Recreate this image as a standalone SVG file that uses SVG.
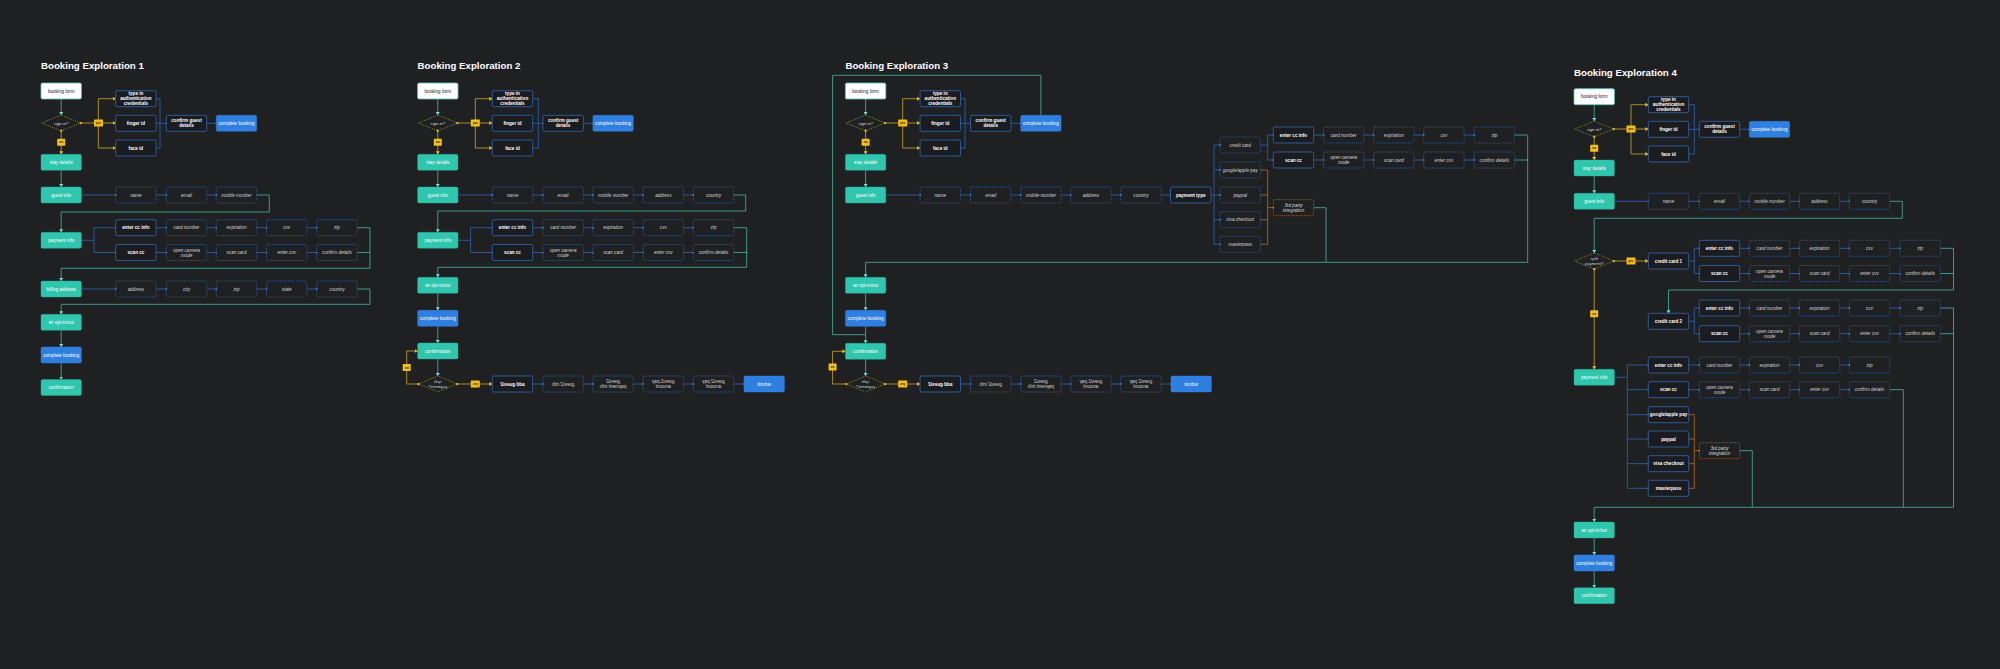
<svg xmlns="http://www.w3.org/2000/svg" width="2000" height="669" viewBox="0 0 2000 669">
<defs>
<style>
.ti{font-family:"Liberation Sans",Arial,sans-serif;font-weight:bold;font-size:9.7px;fill:#fff}
.n text{font-family:"Liberation Sans",Arial,sans-serif;font-size:4.6px;text-anchor:middle}
.teal rect{fill:#2fc6ad;stroke:#29ad97;stroke-width:.4}
.teal text,.blue text{fill:#fff}
.blue rect{fill:#2f7fe0;stroke:#3a89ea;stroke-width:.4}
.solid rect{fill:#1b1c1f;stroke:#3064a8;stroke-width:.85}
.solid text{fill:#fff;font-weight:bold}
.dot rect{fill:none;stroke:#3266ad;stroke-width:.9;stroke-dasharray:.9 1.1}
.dot text{fill:#d6d6d6;font-style:italic}
.odot rect{fill:none;stroke:#c06c1a;stroke-width:.9;stroke-dasharray:.9 1.1}
.odot text{fill:#dcdcdc;font-style:italic}
.white rect{fill:#fff;stroke:#5ccab7;stroke-width:.8}
.white text{fill:#222}
.dia polygon{fill:none;stroke:#9a952e;stroke-width:.9;stroke-dasharray:.9 1.1}
.dia text{fill:#dcdcdc;font-style:italic;font-size:4.2px}
.lab rect{fill:#f2c01c}
.lab text{fill:#2a2200;font-size:3.2px;font-weight:bold}
.c path{fill:none;stroke-width:.8}
.ct{stroke:#46b7a0}
.ct.a{marker-end:url(#at)}
.cb{stroke:#2d66b8}
.cb.a{marker-end:url(#bd)}
.cy{stroke:#d1a52a}
.cy.a{marker-end:url(#ay)}
.cy.s{marker-start:url(#yd)}
.co{stroke:#c06c17}
.co.a{marker-end:url(#od)}
</style>
<marker id="at" markerUnits="userSpaceOnUse" markerWidth="3" markerHeight="4" viewBox="0 0 3 4" refX="3" refY="2" orient="auto"><path d="M0,0 L3,2 L0,4 z" fill="#6fe3d3"/></marker>
<marker id="ay" markerUnits="userSpaceOnUse" markerWidth="3" markerHeight="4" viewBox="0 0 3 4" refX="3" refY="2" orient="auto"><path d="M0,0 L3,2 L0,4 z" fill="#f4c21e"/></marker>
<marker id="bd" markerUnits="userSpaceOnUse" markerWidth="2" markerHeight="2" viewBox="0 0 2 2" refX="1" refY="1"><circle cx="1" cy="1" r="0.9" fill="#3b86f0"/></marker>
<marker id="od" markerUnits="userSpaceOnUse" markerWidth="2" markerHeight="2" viewBox="0 0 2 2" refX="1" refY="1"><circle cx="1" cy="1" r="0.9" fill="#e07a1a"/></marker>
<marker id="yd" markerUnits="userSpaceOnUse" markerWidth="3" markerHeight="3" viewBox="0 0 3 3" refX="1.5" refY="1.5"><path d="M1.5,0 L3,1.5 L1.5,3 L0,1.5 z" fill="#f4c21e"/></marker>
</defs>
<rect width="2000" height="669" fill="#1f2022"/>

<text class="ti" x="41" y="69.3">Booking Exploration 1</text>
<text class="ti" x="417.6" y="69.3">Booking Exploration 2</text>
<text class="ti" x="845.4" y="69.3">Booking Exploration 3</text>
<text class="ti" x="1574" y="75.7">Booking Exploration 4</text>

<g id="connectors" class="c">
<!-- Exp 1 -->
<path class="ct a" d="M61.2,99 V115"/>
<path class="ct a" d="M61.2,170.3 V187"/>
<path class="ct a" d="M256.7,195 H269.3 V212 H61.2 V232.3"/>
<path class="ct a" d="M357.1,227.7 H370 V268.3 H61.2 V281"/>
<path class="ct" d="M357.1,252.5 H370"/>
<path class="ct a" d="M357.1,289 H370 V304.3 H61.2 V314.3"/>
<path class="ct a" d="M61.2,330.3 V347"/>
<path class="ct a" d="M61.2,363 V379.5"/>
<path class="cy s" d="M80.7,123 H98.3"/>
<path class="cy a" d="M98.3,123 H115.7"/>
<path class="cy a" d="M98.3,123 V98.7 H115.7"/>
<path class="cy a" d="M98.3,123 V148 H115.7"/>
<path class="cy s a" d="M61.2,130.8 V154.3"/>
<path class="cb" d="M156.1,98.7 H160 V148 H156.1"/>
<path class="cb a" d="M156.1,123.3 H166.3"/>
<path class="cb a" d="M206.7,123.3 H216.3"/>
<path class="cb a" d="M81.4,195 H115.7"/>
<path class="cb a" d="M156.1,195 H166.3"/>
<path class="cb a" d="M206.7,195 H216.3"/>
<path class="cb" d="M81.4,240.3 H94"/>
<path class="cb a" d="M94,240.3 V227.7 H115.7"/>
<path class="cb a" d="M94,240.3 V252.5 H115.7"/>
<path class="cb a" d="M156.1,227.7 H166.3"/>
<path class="cb a" d="M206.7,227.7 H216.3"/>
<path class="cb a" d="M256.7,227.7 H266.5"/>
<path class="cb a" d="M306.9,227.7 H316.7"/>
<path class="cb a" d="M156.1,252.5 H166.3"/>
<path class="cb a" d="M206.7,252.5 H216.3"/>
<path class="cb a" d="M256.7,252.5 H266.5"/>
<path class="cb a" d="M306.9,252.5 H316.7"/>
<path class="cb a" d="M81.4,289 H115.7"/>
<path class="cb a" d="M156.1,289 H166.3"/>
<path class="cb a" d="M206.7,289 H216.3"/>
<path class="cb a" d="M256.7,289 H266.5"/>
<path class="cb a" d="M306.9,289 H316.7"/>
<!-- Exp 2 -->
<path class="ct a" d="M437.8,99 V115"/>
<path class="ct a" d="M437.8,170.3 V187"/>
<path class="ct a" d="M733.7,195 H745.7 V211 H437.8 V232.3"/>
<path class="ct a" d="M733.7,227.7 H746.7 V267.3 H437.8 V277.3"/>
<path class="ct" d="M733.7,252.5 H746.7"/>
<path class="ct a" d="M437.8,293.3 V310.3"/>
<path class="ct a" d="M437.8,326.3 V343"/>
<path class="ct a" d="M437.8,359 V376"/>
<path class="cy s" d="M457.3,123 H475.3"/>
<path class="cy a" d="M475.3,123 H492.3"/>
<path class="cy a" d="M475.3,123 V98.7 H492.3"/>
<path class="cy a" d="M475.3,123 V148 H492.3"/>
<path class="cy s a" d="M437.8,130.8 V154.3"/>
<path class="cy s a" d="M418.6,384 H406.7 V351 H417.6"/>
<path class="cy s a" d="M457,384 H492.3"/>
<path class="cb" d="M532.7,98.7 H538.3 V148 H532.7"/>
<path class="cb a" d="M532.7,123.3 H542.9"/>
<path class="cb a" d="M583.3,123.3 H592.9"/>
<path class="cb a" d="M458,195 H492.3"/>
<path class="cb a" d="M532.7,195 H542.9"/>
<path class="cb a" d="M583.3,195 H592.9"/>
<path class="cb a" d="M633.3,195 H643.1"/>
<path class="cb a" d="M683.5,195 H693.3"/>
<path class="cb" d="M458,240.3 H470.6"/>
<path class="cb a" d="M470.6,240.3 V227.7 H492.3"/>
<path class="cb a" d="M470.6,240.3 V252.5 H492.3"/>
<path class="cb a" d="M532.7,227.7 H542.9"/>
<path class="cb a" d="M583.3,227.7 H592.9"/>
<path class="cb a" d="M633.3,227.7 H643.1"/>
<path class="cb a" d="M683.5,227.7 H693.3"/>
<path class="cb a" d="M532.7,252.5 H542.9"/>
<path class="cb a" d="M583.3,252.5 H592.9"/>
<path class="cb a" d="M633.3,252.5 H643.1"/>
<path class="cb a" d="M683.5,252.5 H693.3"/>
<path class="cb a" d="M532.7,384 H542.9"/>
<path class="cb a" d="M583.3,384 H592.9"/>
<path class="cb a" d="M633.3,384 H643.1"/>
<path class="cb a" d="M683.5,384 H693.3"/>
<path class="cb a" d="M733.7,384 H744"/>
<!-- Exp 3 -->
<path class="ct a" d="M865.6,99 V115"/>
<path class="ct a" d="M865.6,170.3 V187"/>
<path class="ct" d="M1040.9,115.3 V75.3 H832.6 V334.7 H865.6"/>
<path class="ct a" d="M1514.6,135 H1527.7 V262.3 H865.6 V277.3"/>
<path class="ct" d="M1514.6,160 H1527.7"/>
<path class="ct" d="M1313.7,207.7 H1326 V262.3"/>
<path class="ct a" d="M865.6,293.3 V310.3"/>
<path class="ct a" d="M865.6,326.3 V343.3"/>
<path class="ct a" d="M865.6,359.3 V376"/>
<path class="cy s" d="M885.1,123 H902.7"/>
<path class="cy a" d="M902.7,123 H920.1"/>
<path class="cy a" d="M902.7,123 V98.7 H920.1"/>
<path class="cy a" d="M902.7,123 V148 H920.1"/>
<path class="cy s a" d="M865.6,130.8 V154.3"/>
<path class="cy s a" d="M846.4,384 H832.6 V351.3 H845.4"/>
<path class="cy s a" d="M884.8,384 H920.1"/>
<path class="cb" d="M960.5,98.7 H965 V148 H960.5"/>
<path class="cb a" d="M960.5,123.3 H970.5"/>
<path class="cb a" d="M1010.9,123.3 H1020.7"/>
<path class="cb a" d="M885.8,195 H920.1"/>
<path class="cb a" d="M960.5,195 H970.5"/>
<path class="cb a" d="M1010.9,195 H1020.7"/>
<path class="cb a" d="M1061.1,195 H1070.7"/>
<path class="cb a" d="M1111.1,195 H1120.7"/>
<path class="cb a" d="M1161.1,195 H1170.5"/>
<path class="cb" d="M1210.9,195 H1214 M1214,145 V244.3"/>
<path class="cb a" d="M1214,145 H1220"/>
<path class="cb a" d="M1214,170 H1220"/>
<path class="cb a" d="M1214,195 H1220"/>
<path class="cb a" d="M1214,219.7 H1220"/>
<path class="cb a" d="M1214,244.3 H1220"/>
<path class="cb" d="M1260.4,145 H1267.7 M1267.7,135 V160"/>
<path class="cb a" d="M1267.7,135 H1273.3"/>
<path class="cb a" d="M1267.7,160 H1273.3"/>
<path class="cb a" d="M1313.7,135 H1323.5"/>
<path class="cb a" d="M1363.9,135 H1373.6"/>
<path class="cb a" d="M1414,135 H1423.7"/>
<path class="cb a" d="M1464.1,135 H1474.2"/>
<path class="cb a" d="M1313.7,160 H1323.5"/>
<path class="cb a" d="M1363.9,160 H1373.6"/>
<path class="cb a" d="M1414,160 H1423.7"/>
<path class="cb a" d="M1464.1,160 H1474.2"/>
<path class="co" d="M1260.4,170 H1267.7 V244.3 H1260.4 M1260.4,195 H1267.7 M1260.4,219.7 H1267.7"/>
<path class="co a" d="M1267.7,207.7 H1273.3"/>
<path class="cb a" d="M960.5,384 H970.5"/>
<path class="cb a" d="M1010.9,384 H1020.7"/>
<path class="cb a" d="M1061.1,384 H1070.7"/>
<path class="cb a" d="M1111.1,384 H1120.7"/>
<path class="cb a" d="M1161.1,384 H1171"/>
<!-- Exp 4 -->
<path class="ct a" d="M1594.2,104.7 V121"/>
<path class="ct a" d="M1594.2,176 V193.3"/>
<path class="ct a" d="M1889.7,201.3 H1902.3 V218.3 H1594.2 V253"/>
<path class="ct a" d="M1940.4,248.3 H1953.5 V290 H1668.5 V313.3"/>
<path class="ct" d="M1940.4,273.5 H1953.5"/>
<path class="ct a" d="M1940.4,308 H1953.5 V507.3 H1594.2 V522"/>
<path class="ct" d="M1940.4,333.7 H1953.5"/>
<path class="ct" d="M1889.7,389.7 H1903.3 V507.3"/>
<path class="ct" d="M1739.7,450.7 H1752.3 V507.3"/>
<path class="ct a" d="M1594.2,538 V555"/>
<path class="ct a" d="M1594.2,571 V587.7"/>
<path class="cy s" d="M1613.7,129 H1631"/>
<path class="cy a" d="M1631,129 H1648.3"/>
<path class="cy a" d="M1631,129 V104.7 H1648.3"/>
<path class="cy a" d="M1631,129 V154 H1648.3"/>
<path class="cy s a" d="M1594.2,136.8 V160"/>
<path class="cy s a" d="M1613.7,261 H1648.3"/>
<path class="cy s a" d="M1594.2,269 V369.3"/>
<path class="cb" d="M1688.7,104.7 H1694.3 V154 H1688.7"/>
<path class="cb a" d="M1688.7,129.3 H1699.3"/>
<path class="cb a" d="M1739.7,129.3 H1749.3"/>
<path class="cb a" d="M1614.4,201.3 H1648.3"/>
<path class="cb a" d="M1688.7,201.3 H1699.3"/>
<path class="cb a" d="M1739.7,201.3 H1749.3"/>
<path class="cb a" d="M1789.7,201.3 H1799.3"/>
<path class="cb a" d="M1839.7,201.3 H1849.3"/>
<path class="cb" d="M1688.7,261 H1694.3 M1694.3,248.3 V273.5"/>
<path class="cb a" d="M1694.3,248.3 H1699.3"/>
<path class="cb a" d="M1694.3,273.5 H1699.3"/>
<path class="cb a" d="M1739.7,248.3 H1749.3"/>
<path class="cb a" d="M1789.7,248.3 H1799.3"/>
<path class="cb a" d="M1839.7,248.3 H1849.3"/>
<path class="cb a" d="M1889.7,248.3 H1900"/>
<path class="cb a" d="M1739.7,273.5 H1749.3"/>
<path class="cb a" d="M1789.7,273.5 H1799.3"/>
<path class="cb a" d="M1839.7,273.5 H1849.3"/>
<path class="cb a" d="M1889.7,273.5 H1900"/>
<path class="cb" d="M1688.7,321.3 H1694.3 M1694.3,308 V333.7"/>
<path class="cb a" d="M1694.3,308 H1699.3"/>
<path class="cb a" d="M1694.3,333.7 H1699.3"/>
<path class="cb a" d="M1739.7,308 H1749.3"/>
<path class="cb a" d="M1789.7,308 H1799.3"/>
<path class="cb a" d="M1839.7,308 H1849.3"/>
<path class="cb a" d="M1889.7,308 H1900"/>
<path class="cb a" d="M1739.7,333.7 H1749.3"/>
<path class="cb a" d="M1789.7,333.7 H1799.3"/>
<path class="cb a" d="M1839.7,333.7 H1849.3"/>
<path class="cb a" d="M1889.7,333.7 H1900"/>
<path class="cb" d="M1614.4,377.3 H1627.3 M1627.3,365 V488.3"/>
<path class="cb a" d="M1627.3,365 H1648.3"/>
<path class="cb a" d="M1627.3,389.7 H1648.3"/>
<path class="cb a" d="M1627.3,414.7 H1648.3"/>
<path class="cb a" d="M1627.3,439 H1648.3"/>
<path class="cb a" d="M1627.3,463.7 H1648.3"/>
<path class="cb a" d="M1627.3,488.3 H1648.3"/>
<path class="cb a" d="M1688.7,365 H1699.3"/>
<path class="cb a" d="M1739.7,365 H1749.3"/>
<path class="cb a" d="M1789.7,365 H1799.3"/>
<path class="cb a" d="M1839.7,365 H1849.3"/>
<path class="cb a" d="M1688.7,389.7 H1699.3"/>
<path class="cb a" d="M1739.7,389.7 H1749.3"/>
<path class="cb a" d="M1789.7,389.7 H1799.3"/>
<path class="cb a" d="M1839.7,389.7 H1849.3"/>
<path class="co" d="M1688.7,414.7 H1694.3 V488.3 H1688.7 M1688.7,439 H1694.3 M1688.7,463.7 H1694.3"/>
<path class="co a" d="M1694.3,450.7 H1699.3"/>
</g>

<!-- ===== Exploration 1 ===== -->
<g id="e1-booking-form" class="n white"><rect x="41" y="83" width="40.4" height="16" rx="1.5"/><text x="61.2" y="92.6">booking form</text></g>
<g id="e1-sign-in" class="n dia"><polygon points="41.7,123 61.2,115.2 80.7,123 61.2,130.8"/><text x="61.2" y="124.5">sign in?</text></g>
<g id="e1-yes" class="n lab"><rect x="94" y="119.5" width="9" height="7" rx="0.6"/><text x="98.5" y="124.1">yes</text></g>
<g id="e1-no" class="n lab"><rect x="57.2" y="138.8" width="8" height="7" rx="0.6"/><text x="61.2" y="143.4">no</text></g>
<g id="e1-type-in" class="n solid"><rect x="115.7" y="90.7" width="40.4" height="16" rx="1.5"/><text x="135.9" y="95.3">type in<tspan x="135.9" dy="5">authentication</tspan><tspan x="135.9" dy="5">credentials</tspan></text></g>
<g id="e1-finger-id" class="n solid"><rect x="115.7" y="115.3" width="40.4" height="16" rx="1.5"/><text x="135.9" y="124.9">finger id</text></g>
<g id="e1-face-id" class="n solid"><rect x="115.7" y="140" width="40.4" height="16" rx="1.5"/><text x="135.9" y="149.6">face id</text></g>
<g id="e1-confirm-guest" class="n solid"><rect x="166.3" y="115.3" width="40.4" height="16" rx="1.5"/><text x="186.5" y="122.4">confirm guest<tspan x="186.5" dy="5">details</tspan></text></g>
<g id="e1-complete-booking-top" class="n blue"><rect x="216.3" y="115.3" width="40.4" height="16" rx="1.5"/><text x="236.5" y="124.9">complete booking</text></g>
<g id="e1-stay-details" class="n teal"><rect x="41" y="154.3" width="40.4" height="16" rx="1.5"/><text x="61.2" y="163.9">stay details</text></g>
<g id="e1-guest-info" class="n teal"><rect x="41" y="187" width="40.4" height="16" rx="1.5"/><text x="61.2" y="196.6">guest info</text></g>
<g id="e1-name" class="n dot"><rect x="115.7" y="187" width="40.4" height="16" rx="1.5"/><text x="135.9" y="196.6">name</text></g>
<g id="e1-email" class="n dot"><rect x="166.3" y="187" width="40.4" height="16" rx="1.5"/><text x="186.5" y="196.6">email</text></g>
<g id="e1-mobile" class="n dot"><rect x="216.3" y="187" width="40.4" height="16" rx="1.5"/><text x="236.5" y="196.6">mobile number</text></g>
<g id="e1-payment-info" class="n teal"><rect x="41" y="232.3" width="40.4" height="16" rx="1.5"/><text x="61.2" y="241.9">payment info</text></g>
<g id="e1-enter-cc" class="n solid"><rect x="115.7" y="219.7" width="40.4" height="16" rx="1.5"/><text x="135.9" y="229.3">enter cc info</text></g>
<g id="e1-scan-cc" class="n solid"><rect x="115.7" y="244.5" width="40.4" height="16" rx="1.5"/><text x="135.9" y="254.1">scan cc</text></g>
<g id="e1-card-number" class="n dot"><rect x="166.3" y="219.7" width="40.4" height="16" rx="1.5"/><text x="186.5" y="229.3">card number</text></g>
<g id="e1-expiration" class="n dot"><rect x="216.3" y="219.7" width="40.4" height="16" rx="1.5"/><text x="236.5" y="229.3">expiration</text></g>
<g id="e1-cvv" class="n dot"><rect x="266.5" y="219.7" width="40.4" height="16" rx="1.5"/><text x="286.7" y="229.3">cvv</text></g>
<g id="e1-zip" class="n dot"><rect x="316.7" y="219.7" width="40.4" height="16" rx="1.5"/><text x="336.9" y="229.3">zip</text></g>
<g id="e1-open-camera" class="n dot"><rect x="166.3" y="244.5" width="40.4" height="16" rx="1.5"/><text x="186.5" y="251.6">open camera<tspan x="186.5" dy="5">mode</tspan></text></g>
<g id="e1-scan-card" class="n dot"><rect x="216.3" y="244.5" width="40.4" height="16" rx="1.5"/><text x="236.5" y="254.1">scan card</text></g>
<g id="e1-enter-cvv" class="n dot"><rect x="266.5" y="244.5" width="40.4" height="16" rx="1.5"/><text x="286.7" y="254.1">enter cvv</text></g>
<g id="e1-confirm-details" class="n dot"><rect x="316.7" y="244.5" width="40.4" height="16" rx="1.5"/><text x="336.9" y="254.1">confirm details</text></g>
<g id="e1-billing" class="n teal"><rect x="41" y="281" width="40.4" height="16" rx="1.5"/><text x="61.2" y="290.6">billing address</text></g>
<g id="e1-address" class="n dot"><rect x="115.7" y="281" width="40.4" height="16" rx="1.5"/><text x="135.9" y="290.6">address</text></g>
<g id="e1-city" class="n dot"><rect x="166.3" y="281" width="40.4" height="16" rx="1.5"/><text x="186.5" y="290.6">city</text></g>
<g id="e1-zip-b" class="n dot"><rect x="216.3" y="281" width="40.4" height="16" rx="1.5"/><text x="236.5" y="290.6">zip</text></g>
<g id="e1-state" class="n dot"><rect x="266.5" y="281" width="40.4" height="16" rx="1.5"/><text x="286.7" y="290.6">state</text></g>
<g id="e1-country" class="n dot"><rect x="316.7" y="281" width="40.4" height="16" rx="1.5"/><text x="336.9" y="290.6">country</text></g>
<g id="e1-wr" class="n teal"><rect x="41" y="314.3" width="40.4" height="16" rx="1.5"/><text x="61.2" y="323.9">wr opt-in/out</text></g>
<g id="e1-complete-booking" class="n blue"><rect x="41" y="347" width="40.4" height="16" rx="1.5"/><text x="61.2" y="356.6">complete booking</text></g>
<g id="e1-confirmation" class="n teal"><rect x="41" y="379.5" width="40.4" height="16" rx="1.5"/><text x="61.2" y="389.1">confirmation</text></g>

<!-- ===== Exploration 2 ===== -->
<g id="e2-booking-form" class="n white"><rect x="417.6" y="83" width="40.4" height="16" rx="1.5"/><text x="437.8" y="92.6">booking form</text></g>
<g id="e2-sign-in" class="n dia"><polygon points="418.3,123 437.8,115.2 457.3,123 437.8,130.8"/><text x="437.8" y="124.5">sign in?</text></g>
<g id="e2-yes" class="n lab"><rect x="470.8" y="119.5" width="9" height="7" rx="0.6"/><text x="475.3" y="124.1">yes</text></g>
<g id="e2-no" class="n lab"><rect x="433.8" y="138.8" width="8" height="7" rx="0.6"/><text x="437.8" y="143.4">no</text></g>
<g id="e2-type-in" class="n solid"><rect x="492.3" y="90.7" width="40.4" height="16" rx="1.5"/><text x="512.5" y="95.3">type in<tspan x="512.5" dy="5">authentication</tspan><tspan x="512.5" dy="5">credentials</tspan></text></g>
<g id="e2-finger-id" class="n solid"><rect x="492.3" y="115.3" width="40.4" height="16" rx="1.5"/><text x="512.5" y="124.9">finger id</text></g>
<g id="e2-face-id" class="n solid"><rect x="492.3" y="140" width="40.4" height="16" rx="1.5"/><text x="512.5" y="149.6">face id</text></g>
<g id="e2-confirm-guest" class="n solid"><rect x="542.9" y="115.3" width="40.4" height="16" rx="1.5"/><text x="563.1" y="122.4">confirm guest<tspan x="563.1" dy="5">details</tspan></text></g>
<g id="e2-complete-booking-top" class="n blue"><rect x="592.9" y="115.3" width="40.4" height="16" rx="1.5"/><text x="613.1" y="124.9">complete booking</text></g>
<g id="e2-stay-details" class="n teal"><rect x="417.6" y="154.3" width="40.4" height="16" rx="1.5"/><text x="437.8" y="163.9">stay details</text></g>
<g id="e2-guest-info" class="n teal"><rect x="417.6" y="187" width="40.4" height="16" rx="1.5"/><text x="437.8" y="196.6">guest info</text></g>
<g id="e2-name" class="n dot"><rect x="492.3" y="187" width="40.4" height="16" rx="1.5"/><text x="512.5" y="196.6">name</text></g>
<g id="e2-email" class="n dot"><rect x="542.9" y="187" width="40.4" height="16" rx="1.5"/><text x="563.1" y="196.6">email</text></g>
<g id="e2-mobile" class="n dot"><rect x="592.9" y="187" width="40.4" height="16" rx="1.5"/><text x="613.1" y="196.6">mobile number</text></g>
<g id="e2-address" class="n dot"><rect x="643.1" y="187" width="40.4" height="16" rx="1.5"/><text x="663.3" y="196.6">address</text></g>
<g id="e2-country" class="n dot"><rect x="693.3" y="187" width="40.4" height="16" rx="1.5"/><text x="713.5" y="196.6">country</text></g>
<g id="e2-payment-info" class="n teal"><rect x="417.6" y="232.3" width="40.4" height="16" rx="1.5"/><text x="437.8" y="241.9">payment info</text></g>
<g id="e2-enter-cc" class="n solid"><rect x="492.3" y="219.7" width="40.4" height="16" rx="1.5"/><text x="512.5" y="229.3">enter cc info</text></g>
<g id="e2-scan-cc" class="n solid"><rect x="492.3" y="244.5" width="40.4" height="16" rx="1.5"/><text x="512.5" y="254.1">scan cc</text></g>
<g id="e2-card-number" class="n dot"><rect x="542.9" y="219.7" width="40.4" height="16" rx="1.5"/><text x="563.1" y="229.3">card number</text></g>
<g id="e2-expiration" class="n dot"><rect x="592.9" y="219.7" width="40.4" height="16" rx="1.5"/><text x="613.1" y="229.3">expiration</text></g>
<g id="e2-cvv" class="n dot"><rect x="643.1" y="219.7" width="40.4" height="16" rx="1.5"/><text x="663.3" y="229.3">cvv</text></g>
<g id="e2-zip" class="n dot"><rect x="693.3" y="219.7" width="40.4" height="16" rx="1.5"/><text x="713.5" y="229.3">zip</text></g>
<g id="e2-open-camera" class="n dot"><rect x="542.9" y="244.5" width="40.4" height="16" rx="1.5"/><text x="563.1" y="251.6">open camera<tspan x="563.1" dy="5">mode</tspan></text></g>
<g id="e2-scan-card" class="n dot"><rect x="592.9" y="244.5" width="40.4" height="16" rx="1.5"/><text x="613.1" y="254.1">scan card</text></g>
<g id="e2-enter-cvv" class="n dot"><rect x="643.1" y="244.5" width="40.4" height="16" rx="1.5"/><text x="663.3" y="254.1">enter cvv</text></g>
<g id="e2-confirm-details" class="n dot"><rect x="693.3" y="244.5" width="40.4" height="16" rx="1.5"/><text x="713.5" y="254.1">confirm details</text></g>
<g id="e2-wr" class="n teal"><rect x="417.6" y="277.3" width="40.4" height="16" rx="1.5"/><text x="437.8" y="286.9">wr opt-in/out</text></g>
<g id="e2-complete-booking" class="n blue"><rect x="417.6" y="310.3" width="40.4" height="16" rx="1.5"/><text x="437.8" y="319.9">complete booking</text></g>
<g id="e2-confirmation" class="n teal"><rect x="417.6" y="343" width="40.4" height="16" rx="1.5"/><text x="437.8" y="352.6">confirmation</text></g>
<g id="e2-split" class="n dia"><polygon points="418.6,384 437.8,376 457,384 437.8,392"/><text x="437.8" y="383.1" transform="matrix(-1 0 0 1 875.6 0)">split<tspan x="437.8" dy="5">payment?</tspan></text></g>
<g id="e2-no-2" class="n lab"><rect x="402.7" y="364" width="8" height="7" rx="0.6"/><text x="406.7" y="368.6" transform="matrix(-1 0 0 1 813.4 0)">no</text></g>
<g id="e2-yes-2" class="n lab"><rect x="470.8" y="380.5" width="9" height="7" rx="0.6"/><text x="475.3" y="385.1" transform="matrix(-1 0 0 1 950.6 0)">yes</text></g>
<g id="e2-add-guest2" class="n solid"><rect x="492.3" y="376" width="40.4" height="16" rx="1.5"/><text x="512.5" y="385.6" transform="matrix(-1 0 0 1 1025 0)">add guest2</text></g>
<g id="e2-guest2-info" class="n dot"><rect x="542.9" y="376" width="40.4" height="16" rx="1.5"/><text x="563.1" y="385.6" transform="matrix(-1 0 0 1 1126.2 0)">guest2 info</text></g>
<g id="e2-guest2-payment" class="n dot"><rect x="592.9" y="376" width="40.4" height="16" rx="1.5"/><text x="613.1" y="383.1" transform="matrix(-1 0 0 1 1226.2 0)">guest2<tspan x="613.1" dy="5">payment info</tspan></text></g>
<g id="e2-guest1-pay" class="n dot"><rect x="643.1" y="376" width="40.4" height="16" rx="1.5"/><text x="663.3" y="383.1" transform="matrix(-1 0 0 1 1326.6 0)">guest1 pay<tspan x="663.3" dy="5">amount</tspan></text></g>
<g id="e2-guest2-pay" class="n dot"><rect x="693.3" y="376" width="40.4" height="16" rx="1.5"/><text x="713.5" y="383.1" transform="matrix(-1 0 0 1 1427 0)">guest2 pay<tspan x="713.5" dy="5">amount</tspan></text></g>
<g id="e2-submit" class="n blue"><rect x="744" y="376" width="40.4" height="16" rx="1.5"/><text x="764.2" y="385.6" transform="matrix(-1 0 0 1 1528.4 0)">submit</text></g>

<!-- ===== Exploration 3 ===== -->
<g id="e3-booking-form" class="n white"><rect x="845.4" y="83" width="40.4" height="16" rx="1.5"/><text x="865.6" y="92.6">booking form</text></g>
<g id="e3-sign-in" class="n dia"><polygon points="846.1,123 865.6,115.2 885.1,123 865.6,130.8"/><text x="865.6" y="124.5">sign in?</text></g>
<g id="e3-yes" class="n lab"><rect x="898.2" y="119.5" width="9" height="7" rx="0.6"/><text x="902.7" y="124.1">yes</text></g>
<g id="e3-no" class="n lab"><rect x="861.6" y="138.8" width="8" height="7" rx="0.6"/><text x="865.6" y="143.4">no</text></g>
<g id="e3-type-in" class="n solid"><rect x="920.1" y="90.7" width="40.4" height="16" rx="1.5"/><text x="940.3" y="95.3">type in<tspan x="940.3" dy="5">authentication</tspan><tspan x="940.3" dy="5">credentials</tspan></text></g>
<g id="e3-finger-id" class="n solid"><rect x="920.1" y="115.3" width="40.4" height="16" rx="1.5"/><text x="940.3" y="124.9">finger id</text></g>
<g id="e3-face-id" class="n solid"><rect x="920.1" y="140" width="40.4" height="16" rx="1.5"/><text x="940.3" y="149.6">face id</text></g>
<g id="e3-confirm-guest" class="n solid"><rect x="970.5" y="115.3" width="40.4" height="16" rx="1.5"/><text x="990.7" y="122.4">confirm guest<tspan x="990.7" dy="5">details</tspan></text></g>
<g id="e3-complete-booking-top" class="n blue"><rect x="1020.7" y="115.3" width="40.4" height="16" rx="1.5"/><text x="1040.9" y="124.9">complete booking</text></g>
<g id="e3-stay-details" class="n teal"><rect x="845.4" y="154.3" width="40.4" height="16" rx="1.5"/><text x="865.6" y="163.9">stay details</text></g>
<g id="e3-guest-info" class="n teal"><rect x="845.4" y="187" width="40.4" height="16" rx="1.5"/><text x="865.6" y="196.6">guest info</text></g>
<g id="e3-name" class="n dot"><rect x="920.1" y="187" width="40.4" height="16" rx="1.5"/><text x="940.3" y="196.6">name</text></g>
<g id="e3-email" class="n dot"><rect x="970.5" y="187" width="40.4" height="16" rx="1.5"/><text x="990.7" y="196.6">email</text></g>
<g id="e3-mobile" class="n dot"><rect x="1020.7" y="187" width="40.4" height="16" rx="1.5"/><text x="1040.9" y="196.6">mobile number</text></g>
<g id="e3-address" class="n dot"><rect x="1070.7" y="187" width="40.4" height="16" rx="1.5"/><text x="1090.9" y="196.6">address</text></g>
<g id="e3-country" class="n dot"><rect x="1120.7" y="187" width="40.4" height="16" rx="1.5"/><text x="1140.9" y="196.6">country</text></g>
<g id="e3-payment-type" class="n solid"><rect x="1170.5" y="187" width="40.4" height="16" rx="1.5"/><text x="1190.7" y="196.6">payment type</text></g>
<g id="e3-credit-card" class="n dot"><rect x="1220" y="137" width="40.4" height="16" rx="1.5"/><text x="1240.2" y="146.6">credit card</text></g>
<g id="e3-google-apple" class="n dot"><rect x="1220" y="162" width="40.4" height="16" rx="1.5"/><text x="1240.2" y="171.6">google/apple pay</text></g>
<g id="e3-paypal" class="n dot"><rect x="1220" y="187" width="40.4" height="16" rx="1.5"/><text x="1240.2" y="196.6">paypal</text></g>
<g id="e3-visa" class="n dot"><rect x="1220" y="211.7" width="40.4" height="16" rx="1.5"/><text x="1240.2" y="221.3">visa checkout</text></g>
<g id="e3-masterpass" class="n dot"><rect x="1220" y="236.3" width="40.4" height="16" rx="1.5"/><text x="1240.2" y="245.9">masterpass</text></g>
<g id="e3-enter-cc" class="n solid"><rect x="1273.3" y="127" width="40.4" height="16" rx="1.5"/><text x="1293.5" y="136.6">enter cc info</text></g>
<g id="e3-scan-cc" class="n solid"><rect x="1273.3" y="152" width="40.4" height="16" rx="1.5"/><text x="1293.5" y="161.6">scan cc</text></g>
<g id="e3-card-number" class="n dot"><rect x="1323.5" y="127" width="40.4" height="16" rx="1.5"/><text x="1343.7" y="136.6">card number</text></g>
<g id="e3-expiration" class="n dot"><rect x="1373.6" y="127" width="40.4" height="16" rx="1.5"/><text x="1393.8" y="136.6">expiration</text></g>
<g id="e3-cvv" class="n dot"><rect x="1423.7" y="127" width="40.4" height="16" rx="1.5"/><text x="1443.9" y="136.6">cvv</text></g>
<g id="e3-zip" class="n dot"><rect x="1474.2" y="127" width="40.4" height="16" rx="1.5"/><text x="1494.4" y="136.6">zip</text></g>
<g id="e3-open-camera" class="n dot"><rect x="1323.5" y="152" width="40.4" height="16" rx="1.5"/><text x="1343.7" y="159.1">open camera<tspan x="1343.7" dy="5">mode</tspan></text></g>
<g id="e3-scan-card" class="n dot"><rect x="1373.6" y="152" width="40.4" height="16" rx="1.5"/><text x="1393.8" y="161.6">scan card</text></g>
<g id="e3-enter-cvv" class="n dot"><rect x="1423.7" y="152" width="40.4" height="16" rx="1.5"/><text x="1443.9" y="161.6">enter cvv</text></g>
<g id="e3-confirm-details" class="n dot"><rect x="1474.2" y="152" width="40.4" height="16" rx="1.5"/><text x="1494.4" y="161.6">confirm details</text></g>
<g id="e3-third-party" class="n odot"><rect x="1273.3" y="199.7" width="40.4" height="16" rx="1.5"/><text x="1293.5" y="206.8">3rd party<tspan x="1293.5" dy="5">integration</tspan></text></g>
<g id="e3-wr" class="n teal"><rect x="845.4" y="277.3" width="40.4" height="16" rx="1.5"/><text x="865.6" y="286.9">wr opt-in/out</text></g>
<g id="e3-complete-booking" class="n blue"><rect x="845.4" y="310.3" width="40.4" height="16" rx="1.5"/><text x="865.6" y="319.9">complete booking</text></g>
<g id="e3-confirmation" class="n teal"><rect x="845.4" y="343.3" width="40.4" height="16" rx="1.5"/><text x="865.6" y="352.9">confirmation</text></g>
<g id="e3-split" class="n dia"><polygon points="846.4,384 865.6,376 884.8,384 865.6,392"/><text x="865.6" y="383.1" transform="matrix(-1 0 0 1 1731.2 0)">split<tspan x="865.6" dy="5">payment?</tspan></text></g>
<g id="e3-no-2" class="n lab"><rect x="828.6" y="363.5" width="8" height="7" rx="0.6"/><text x="832.6" y="368.1" transform="matrix(-1 0 0 1 1665.2 0)">no</text></g>
<g id="e3-yes-2" class="n lab"><rect x="898.2" y="380.5" width="9" height="7" rx="0.6"/><text x="902.7" y="385.1" transform="matrix(-1 0 0 1 1805.4 0)">yes</text></g>
<g id="e3-add-guest2" class="n solid"><rect x="920.1" y="376" width="40.4" height="16" rx="1.5"/><text x="940.3" y="385.6" transform="matrix(-1 0 0 1 1880.6 0)">add guest2</text></g>
<g id="e3-guest2-info" class="n dot"><rect x="970.5" y="376" width="40.4" height="16" rx="1.5"/><text x="990.7" y="385.6" transform="matrix(-1 0 0 1 1981.4 0)">guest2 info</text></g>
<g id="e3-guest2-payment" class="n dot"><rect x="1020.7" y="376" width="40.4" height="16" rx="1.5"/><text x="1040.9" y="383.1" transform="matrix(-1 0 0 1 2081.8 0)">guest2<tspan x="1040.9" dy="5">payment info</tspan></text></g>
<g id="e3-guest1-pay" class="n dot"><rect x="1070.7" y="376" width="40.4" height="16" rx="1.5"/><text x="1090.9" y="383.1" transform="matrix(-1 0 0 1 2181.8 0)">guest1 pay<tspan x="1090.9" dy="5">amount</tspan></text></g>
<g id="e3-guest2-pay" class="n dot"><rect x="1120.7" y="376" width="40.4" height="16" rx="1.5"/><text x="1140.9" y="383.1" transform="matrix(-1 0 0 1 2281.8 0)">guest2 pay<tspan x="1140.9" dy="5">amount</tspan></text></g>
<g id="e3-submit" class="n blue"><rect x="1171" y="376" width="40.4" height="16" rx="1.5"/><text x="1191.2" y="385.6" transform="matrix(-1 0 0 1 2382.4 0)">submit</text></g>

<!-- ===== Exploration 4 ===== -->
<g id="e4-booking-form" class="n white"><rect x="1574" y="88.7" width="40.4" height="16" rx="1.5"/><text x="1594.2" y="98.3">booking form</text></g>
<g id="e4-sign-in" class="n dia"><polygon points="1574.7,129 1594.2,121.2 1613.7,129 1594.2,136.8"/><text x="1594.2" y="130.5">sign in?</text></g>
<g id="e4-yes" class="n lab"><rect x="1626.5" y="125.5" width="9" height="7" rx="0.6"/><text x="1631" y="130.1">yes</text></g>
<g id="e4-no" class="n lab"><rect x="1590.2" y="144.8" width="8" height="7" rx="0.6"/><text x="1594.2" y="149.4">no</text></g>
<g id="e4-type-in" class="n solid"><rect x="1648.3" y="96.7" width="40.4" height="16" rx="1.5"/><text x="1668.5" y="101.3">type in<tspan x="1668.5" dy="5">authentication</tspan><tspan x="1668.5" dy="5">credentials</tspan></text></g>
<g id="e4-finger-id" class="n solid"><rect x="1648.3" y="121.3" width="40.4" height="16" rx="1.5"/><text x="1668.5" y="130.9">finger id</text></g>
<g id="e4-face-id" class="n solid"><rect x="1648.3" y="146" width="40.4" height="16" rx="1.5"/><text x="1668.5" y="155.6">face id</text></g>
<g id="e4-confirm-guest" class="n solid"><rect x="1699.3" y="121.3" width="40.4" height="16" rx="1.5"/><text x="1719.5" y="128.4">confirm guest<tspan x="1719.5" dy="5">details</tspan></text></g>
<g id="e4-complete-booking-top" class="n blue"><rect x="1749.3" y="121.3" width="40.4" height="16" rx="1.5"/><text x="1769.5" y="130.9">complete booking</text></g>
<g id="e4-stay-details" class="n teal"><rect x="1574" y="160" width="40.4" height="16" rx="1.5"/><text x="1594.2" y="169.6">stay details</text></g>
<g id="e4-guest-info" class="n teal"><rect x="1574" y="193.3" width="40.4" height="16" rx="1.5"/><text x="1594.2" y="202.9">guest info</text></g>
<g id="e4-name" class="n dot"><rect x="1648.3" y="193.3" width="40.4" height="16" rx="1.5"/><text x="1668.5" y="202.9">name</text></g>
<g id="e4-email" class="n dot"><rect x="1699.3" y="193.3" width="40.4" height="16" rx="1.5"/><text x="1719.5" y="202.9">email</text></g>
<g id="e4-mobile" class="n dot"><rect x="1749.3" y="193.3" width="40.4" height="16" rx="1.5"/><text x="1769.5" y="202.9">mobile number</text></g>
<g id="e4-address" class="n dot"><rect x="1799.3" y="193.3" width="40.4" height="16" rx="1.5"/><text x="1819.5" y="202.9">address</text></g>
<g id="e4-country" class="n dot"><rect x="1849.3" y="193.3" width="40.4" height="16" rx="1.5"/><text x="1869.5" y="202.9">country</text></g>
<g id="e4-split" class="n dia"><polygon points="1574.7,261 1594.2,253 1613.7,261 1594.2,269"/><text x="1594.2" y="260.1">split<tspan x="1594.2" dy="5">payment?</tspan></text></g>
<g id="e4-yes-2" class="n lab"><rect x="1626.5" y="257.5" width="9" height="7" rx="0.6"/><text x="1631" y="262.1">yes</text></g>
<g id="e4-no-2" class="n lab"><rect x="1590.2" y="310.3" width="8" height="7" rx="0.6"/><text x="1594.2" y="314.9">no</text></g>
<g id="e4-credit-card-1" class="n solid"><rect x="1648.3" y="253" width="40.4" height="16" rx="1.5"/><text x="1668.5" y="262.6">credit card 1</text></g>
<g id="e4-enter-cc-1" class="n solid"><rect x="1699.3" y="240.3" width="40.4" height="16" rx="1.5"/><text x="1719.5" y="249.9">enter cc info</text></g>
<g id="e4-scan-cc-1" class="n solid"><rect x="1699.3" y="265.5" width="40.4" height="16" rx="1.5"/><text x="1719.5" y="275.1">scan cc</text></g>
<g id="e4-card-number-1" class="n dot"><rect x="1749.3" y="240.3" width="40.4" height="16" rx="1.5"/><text x="1769.5" y="249.9">card number</text></g>
<g id="e4-expiration-1" class="n dot"><rect x="1799.3" y="240.3" width="40.4" height="16" rx="1.5"/><text x="1819.5" y="249.9">expiration</text></g>
<g id="e4-cvv-1" class="n dot"><rect x="1849.3" y="240.3" width="40.4" height="16" rx="1.5"/><text x="1869.5" y="249.9">cvv</text></g>
<g id="e4-zip-1" class="n dot"><rect x="1900" y="240.3" width="40.4" height="16" rx="1.5"/><text x="1920.2" y="249.9">zip</text></g>
<g id="e4-open-camera-1" class="n dot"><rect x="1749.3" y="265.5" width="40.4" height="16" rx="1.5"/><text x="1769.5" y="272.6">open camera<tspan x="1769.5" dy="5">mode</tspan></text></g>
<g id="e4-scan-card-1" class="n dot"><rect x="1799.3" y="265.5" width="40.4" height="16" rx="1.5"/><text x="1819.5" y="275.1">scan card</text></g>
<g id="e4-enter-cvv-1" class="n dot"><rect x="1849.3" y="265.5" width="40.4" height="16" rx="1.5"/><text x="1869.5" y="275.1">enter cvv</text></g>
<g id="e4-confirm-details-1" class="n dot"><rect x="1900" y="265.5" width="40.4" height="16" rx="1.5"/><text x="1920.2" y="275.1">confirm details</text></g>
<g id="e4-credit-card-2" class="n solid"><rect x="1648.3" y="313.3" width="40.4" height="16" rx="1.5"/><text x="1668.5" y="322.9">credit card 2</text></g>
<g id="e4-enter-cc-2" class="n solid"><rect x="1699.3" y="300" width="40.4" height="16" rx="1.5"/><text x="1719.5" y="309.6">enter cc info</text></g>
<g id="e4-scan-cc-2" class="n solid"><rect x="1699.3" y="325.7" width="40.4" height="16" rx="1.5"/><text x="1719.5" y="335.3">scan cc</text></g>
<g id="e4-card-number-2" class="n dot"><rect x="1749.3" y="300" width="40.4" height="16" rx="1.5"/><text x="1769.5" y="309.6">card number</text></g>
<g id="e4-expiration-2" class="n dot"><rect x="1799.3" y="300" width="40.4" height="16" rx="1.5"/><text x="1819.5" y="309.6">expiration</text></g>
<g id="e4-cvv-2" class="n dot"><rect x="1849.3" y="300" width="40.4" height="16" rx="1.5"/><text x="1869.5" y="309.6">cvv</text></g>
<g id="e4-zip-2" class="n dot"><rect x="1900" y="300" width="40.4" height="16" rx="1.5"/><text x="1920.2" y="309.6">zip</text></g>
<g id="e4-open-camera-2" class="n dot"><rect x="1749.3" y="325.7" width="40.4" height="16" rx="1.5"/><text x="1769.5" y="332.8">open camera<tspan x="1769.5" dy="5">mode</tspan></text></g>
<g id="e4-scan-card-2" class="n dot"><rect x="1799.3" y="325.7" width="40.4" height="16" rx="1.5"/><text x="1819.5" y="335.3">scan card</text></g>
<g id="e4-enter-cvv-2" class="n dot"><rect x="1849.3" y="325.7" width="40.4" height="16" rx="1.5"/><text x="1869.5" y="335.3">enter cvv</text></g>
<g id="e4-confirm-details-2" class="n dot"><rect x="1900" y="325.7" width="40.4" height="16" rx="1.5"/><text x="1920.2" y="335.3">confirm details</text></g>
<g id="e4-payment-info" class="n teal"><rect x="1574" y="369.3" width="40.4" height="16" rx="1.5"/><text x="1594.2" y="378.9">payment info</text></g>
<g id="e4-enter-cc-3" class="n solid"><rect x="1648.3" y="357" width="40.4" height="16" rx="1.5"/><text x="1668.5" y="366.6">enter cc info</text></g>
<g id="e4-scan-cc-3" class="n solid"><rect x="1648.3" y="381.7" width="40.4" height="16" rx="1.5"/><text x="1668.5" y="391.3">scan cc</text></g>
<g id="e4-google-apple" class="n solid"><rect x="1648.3" y="406.7" width="40.4" height="16" rx="1.5"/><text x="1668.5" y="416.3">google/apple pay</text></g>
<g id="e4-paypal" class="n solid"><rect x="1648.3" y="431" width="40.4" height="16" rx="1.5"/><text x="1668.5" y="440.6">paypal</text></g>
<g id="e4-visa" class="n solid"><rect x="1648.3" y="455.7" width="40.4" height="16" rx="1.5"/><text x="1668.5" y="465.3">visa checkout</text></g>
<g id="e4-masterpass" class="n solid"><rect x="1648.3" y="480.3" width="40.4" height="16" rx="1.5"/><text x="1668.5" y="489.9">masterpass</text></g>
<g id="e4-card-number-3" class="n dot"><rect x="1699.3" y="357" width="40.4" height="16" rx="1.5"/><text x="1719.5" y="366.6">card number</text></g>
<g id="e4-expiration-3" class="n dot"><rect x="1749.3" y="357" width="40.4" height="16" rx="1.5"/><text x="1769.5" y="366.6">expiration</text></g>
<g id="e4-cvv-3" class="n dot"><rect x="1799.3" y="357" width="40.4" height="16" rx="1.5"/><text x="1819.5" y="366.6">cvv</text></g>
<g id="e4-zip-3" class="n dot"><rect x="1849.3" y="357" width="40.4" height="16" rx="1.5"/><text x="1869.5" y="366.6">zip</text></g>
<g id="e4-open-camera-3" class="n dot"><rect x="1699.3" y="381.7" width="40.4" height="16" rx="1.5"/><text x="1719.5" y="388.8">open camera<tspan x="1719.5" dy="5">mode</tspan></text></g>
<g id="e4-scan-card-3" class="n dot"><rect x="1749.3" y="381.7" width="40.4" height="16" rx="1.5"/><text x="1769.5" y="391.3">scan card</text></g>
<g id="e4-enter-cvv-3" class="n dot"><rect x="1799.3" y="381.7" width="40.4" height="16" rx="1.5"/><text x="1819.5" y="391.3">enter cvv</text></g>
<g id="e4-confirm-details-3" class="n dot"><rect x="1849.3" y="381.7" width="40.4" height="16" rx="1.5"/><text x="1869.5" y="391.3">confirm details</text></g>
<g id="e4-third-party" class="n odot"><rect x="1699.3" y="442.7" width="40.4" height="16" rx="1.5"/><text x="1719.5" y="449.8">3rd party<tspan x="1719.5" dy="5">integration</tspan></text></g>
<g id="e4-wr" class="n teal"><rect x="1574" y="522" width="40.4" height="16" rx="1.5"/><text x="1594.2" y="531.6">wr opt-in/out</text></g>
<g id="e4-complete-booking" class="n blue"><rect x="1574" y="555" width="40.4" height="16" rx="1.5"/><text x="1594.2" y="564.6">complete booking</text></g>
<g id="e4-confirmation" class="n teal"><rect x="1574" y="587.7" width="40.4" height="16" rx="1.5"/><text x="1594.2" y="597.3">confirmation</text></g>
</svg>
